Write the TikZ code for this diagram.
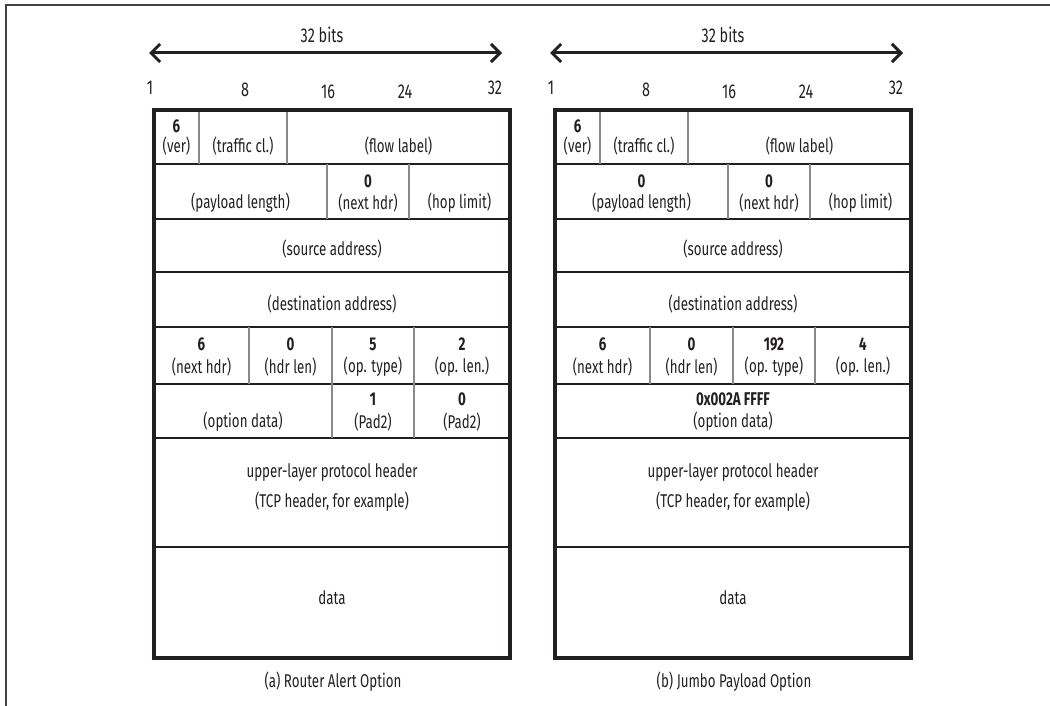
\documentclass[tikz,border=0pt]{standalone}
\usepackage{fontspec}
\setmainfont{Fira Sans}[FakeStretch=0.72]
\usetikzlibrary{arrows.meta}
\definecolor{ink}{HTML}{231F20}
\definecolor{divgray}{HTML}{8A8A8A}
\tikzset{
  txt/.style={text=ink,font=\fontsize{18.5}{22}\selectfont,inner sep=0pt},
  bitnum/.style={text=ink,font=\fontsize{20}{24}\selectfont,inner sep=0pt},
  num/.style={txt,font=\fontsize{18.5}{22}\selectfont\bfseries},
  outerbox/.style={draw=ink,line width=3.6pt},
  rowline/.style={draw=ink,line width=2pt},
  divline/.style={draw=divgray,line width=1.3pt},
  framel/.style={draw=ink!85,line width=2pt},
  bitarrow/.style={draw=ink,line width=3pt,{Straight Barb[length=9pt,width=18pt,line width=3pt]}-{Straight Barb[length=9pt,width=18pt,line width=3pt]}}
}
\newcommand\pktcommon[2]{%
  % bit scale
  \coordinate (#1arL) at (149,53);
  \coordinate (#1arR) at (502,53);
  \draw[bitarrow] (#1arL) -- (#1arR);
  \node[bitnum] (#1bits) at (322,35) {32 bits};
  \node[bitnum] (#1b1) at (150,88) {1};
  \node[bitnum] (#1b8) at (245,90) {8};
  \node[bitnum] (#1b16) at (328,92) {16};
  \node[bitnum] (#1b24) at (405,92) {24};
  \node[bitnum] (#1b32) at (495,88) {32};
  % rows
  \foreach \yy in {164,219,272,327,384,438,547}{\draw[rowline] (154,\yy) -- (510,\yy);}
  % row 1
  \draw[divline] (199,110) -- (199,164);
  \draw[divline] (287,110) -- (287,164);
  \node[num] (#1vern) at (176.5,126) {6};
  \node[txt] (#1ver) at (176.5,146) {(ver)};
  \node[txt] (#1tc) at (243,146) {(traffic cl.)};
  \node[txt] (#1fl) at (398.5,146) {(flow label)};
  % row 2
  \draw[divline] (327,164) -- (327,219);
  \draw[divline] (409,164) -- (409,219);
  \node[txt] (#1pl) at (240.5,203) {(payload length)};
  \node[num] (#1nhn) at (368,181) {0};
  \node[txt] (#1nh) at (368,203) {(next hdr)};
  \node[txt] (#1hl) at (459.5,203) {(hop limit)};
  % rows 3-4
  \node[txt] (#1src) at (332,249) {(source address)};
  \node[txt] (#1dst) at (332,304) {(destination address)};
  % row 5
  \draw[divline] (249,327) -- (249,384);
  \draw[divline] (332,327) -- (332,384);
  \draw[divline] (414,327) -- (414,384);
  \node[txt] (#1onh) at (201.5,367) {(next hdr)};
  \node[txt] (#1ohl) at (290.5,367) {(hdr len)};
  \node[txt] (#1oty) at (373,367) {(op. type)};
  \node[txt] (#1ole) at (462,367) {(op. len.)};
  % rows 7-8
  \node[txt] (#1ulp) at (332,473) {upper-layer protocol header};
  \node[txt] (#1tcp) at (332,502) {(TCP header, for example)};
  \node[txt] (#1data) at (332,598) {data};
  \draw[outerbox] (154,110) rectangle (510,658);
  \node[txt] (#1cap) at (333,682) {#2};
}
\begin{document}
\begin{tikzpicture}[x=1pt,y=-1pt]
\useasboundingbox (0,0) rectangle (1050,706);
\draw[framel] (6,706) -- (6,5) -- (1050,5);
% ---------- (a) Router Alert Option ----------
\begin{scope}
  \pktcommon{a}{(a) Router Alert Option}
  \node[num] (aonhn) at (201.5,344) {6};
  \node[num] (aohln) at (290.5,344) {0};
  \node[num] (aotyn) at (373,344) {5};
  \node[num] (aolen) at (462,344) {2};
  \draw[divline] (332,384) -- (332,438);
  \draw[divline] (414,384) -- (414,438);
  \node[txt] (aod) at (243,422) {(option data)};
  \node[num] (ap1n) at (373,399) {1};
  \node[txt] (ap1) at (373,422) {(Pad2)};
  \node[num] (ap2n) at (462,399) {0};
  \node[txt] (ap2) at (462,422) {(Pad2)};
\end{scope}
% ---------- (b) Jumbo Payload Option ----------
\begin{scope}[xshift=401pt]
  \pktcommon{b}{(b) Jumbo Payload Option}
  \node[num] (bpln) at (240.5,181) {0};
  \node[num] (bonhn) at (201.5,344) {6};
  \node[num] (bohln) at (290.5,344) {0};
  \node[num] (botyn) at (373,344) {192};
  \node[num] (bolen) at (462,344) {4};
  \node[num] (bodn) at (332,399) {0x002A FFFF};
  \node[txt] (bod) at (332,422) {(option data)};
\end{scope}
\end{tikzpicture}
\end{document}
